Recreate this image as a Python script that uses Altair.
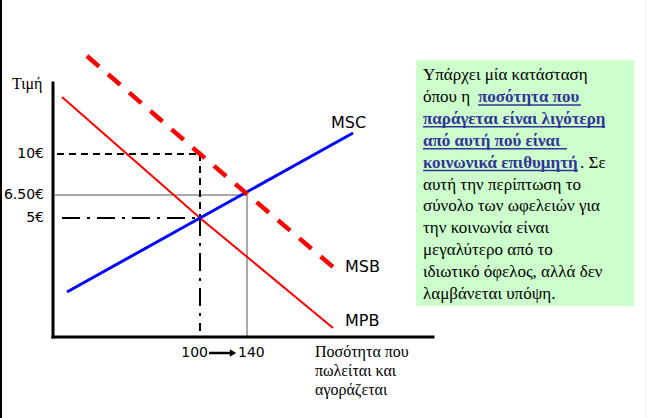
import altair as alt
import pandas as pd

# ---- schematic axes: piecewise quantity / price scales -------------------
q_breaks = [0, 100, 140, 300]
q_pixels = [53, 200, 247, 433]
p_breaks = [0, 5, 6.5, 10, 20]
p_pixels = [337, 218, 195, 154, 26]

xs = alt.Scale(domain=q_breaks, range=q_pixels, nice=False, zero=False)
ys = alt.Scale(domain=p_breaks, range=p_pixels, nice=False, zero=False)

# ---- curves -------------------------------------------------------------
msc_q = [9.5, 100, 231.2]
msc_p = [1.89, 5, 11.64]
mpb_q = [6.1, 100, 214.0]
mpb_p = [14.45, 5, 0.38]
msb_q = [23.1, 100, 214.0]
msb_p = [17.66, 10, 2.94]

# ---- ticks --------------------------------------------------------------
price_ticks = [10, 6.5, 5]
price_labels = ["10€", "6.50€", "5€"]
qty_ticks = [100, 140]
qty_labels = ["100", "140"]

# ---- guide segments (q0, p0, q1, p1) -------------------------------------
dashed_guides = [(2.7, 10, 100, 10), (100, 10, 100, 5)]
dashdot_guides = [(6.1, 5, 100, 5), (100, 5, 100, 0.25)]
thin_guides = [(1.4, 6.5, 140, 6.5), (140, 6.5, 140, 0)]
axis_lines = [(0, 0, 0, 15.55), (0, 0, 300, 0)]

# ---- text ---------------------------------------------------------------
y_title = "Τιμή"
x_title = ["Ποσότητα που", "πωλείται και", "αγοράζεται"]
box_lines = [
    [("Υπάρχει μία κατάσταση", False)],
    [("όπου η", False), ("ποσότητα που", True)],
    [("παράγεται είναι λιγότερη", True)],
    [("από αυτή πού είναι", True)],
    [("κοινωνικά επιθυμητή", True), (". Σε", False)],
    [("αυτή την περίπτωση το", False)],
    [("σύνολο των ωφελειών για", False)],
    [("την κοινωνία είναι", False)],
    [("μεγαλύτερο από το", False)],
    [("ιδιωτικό όφελος, αλλά δεν", False)],
    [("λαμβάνεται υπόψη.", False)],
]

SANS = "DejaVu Sans"
SERIF = "Liberation Serif"
LINK = "#333399"


def curve_df(q, p):
    return pd.DataFrame({"q": q, "p": p, "i": range(len(q))})


def seg_df(segs):
    return pd.DataFrame(segs, columns=["q0", "p0", "q1", "p1"])


def rules(segs, **mark):
    return alt.Chart(seg_df(segs)).mark_rule(**mark).encode(
        x=alt.X("q0:Q", scale=xs, axis=None),
        x2="q1:Q",
        y=alt.Y("p0:Q", scale=ys, axis=None),
        y2="p1:Q",
    )


def curve(q, p, **mark):
    return alt.Chart(curve_df(q, p)).mark_line(**mark).encode(
        x=alt.X("q:Q", scale=xs, axis=None),
        y=alt.Y("p:Q", scale=ys, axis=None),
        order="i:Q",
    )


def curve_label(q, p, text, dx, dy):
    return alt.Chart(pd.DataFrame({"q": [q[-1]], "p": [p[-1]], "t": [text]})).mark_text(
        align="left", baseline="middle", font=SANS, fontSize=16, color="black", dx=dx, dy=dy
    ).encode(
        x=alt.X("q:Q", scale=xs, axis=None),
        y=alt.Y("p:Q", scale=ys, axis=None),
        text="t:N",
    )


one = pd.DataFrame({"k": [0]})

# page frame lines
frame_left = alt.Chart(one).mark_rule(color="black", strokeWidth=2).encode(
    x=alt.value(1), y=alt.value(0), y2=alt.value(418)
)
frame_right = alt.Chart(one).mark_rule(color="#ececec", strokeWidth=1).encode(
    x=alt.value(646), y=alt.value(0), y2=alt.value(418)
)

# guides
g_thin = rules(thin_guides, color="#555555", strokeWidth=1)
g_dash = rules(dashed_guides, color="black", strokeWidth=2, strokeDash=[7, 5])
g_dashdot = rules(dashdot_guides, color="black", strokeWidth=2, strokeDash=[18, 7, 3, 7])

# curves
c_mpb = curve(mpb_q, mpb_p, color="#ff0000", strokeWidth=2)
c_msc = curve(msc_q, msc_p, color="#0000ff", strokeWidth=3)
c_msb = curve(msb_q, msb_p, color="#ff0000", strokeWidth=4.5, strokeDash=[16, 12], strokeCap="butt")

# axes
axes = rules(axis_lines, color="black", strokeWidth=3, strokeCap="square")

# tick labels
price_text = alt.Chart(pd.DataFrame({"p": price_ticks, "t": price_labels})).mark_text(
    align="right", baseline="middle", font=SANS, fontSize=14, color="black"
).encode(x=alt.value(44), y=alt.Y("p:Q", scale=ys, axis=None), text="t:N")

qty_df = pd.DataFrame({"q": qty_ticks, "t": qty_labels})
q_lo = alt.Chart(qty_df.iloc[[0]]).mark_text(
    align="right", baseline="middle", font=SANS, fontSize=14, color="black", dx=8
).encode(x=alt.X("q:Q", scale=xs, axis=None), y=alt.value(353), text="t:N")
q_hi = alt.Chart(qty_df.iloc[[1]]).mark_text(
    align="left", baseline="middle", font=SANS, fontSize=14, color="black", dx=-9
).encode(x=alt.X("q:Q", scale=xs, axis=None), y=alt.value(353), text="t:N")
arrow_shaft = alt.Chart(one).mark_rule(color="black", strokeWidth=2.5).encode(
    x=alt.value(209), x2=alt.value(231), y=alt.value(353)
)
arrow_head = alt.Chart(one).mark_point(
    shape="triangle-right", filled=True, color="black", size=55, opacity=1
).encode(x=alt.value(233), y=alt.value(353))

# curve labels
l_msc = curve_label(msc_q, msc_p, "MSC", -22, -10)
l_msb = curve_label(msb_q, msb_p, "MSB", 12, 0)
l_mpb = curve_label(mpb_q, mpb_p, "MPB", 12, -7)

# axis titles
t_y = alt.Chart(pd.DataFrame({"t": [y_title]})).mark_text(
    align="left", baseline="middle", font=SERIF, fontSize=16, color="black"
).encode(x=alt.value(12), y=alt.value(84), text="t:N")
t_x = alt.Chart(pd.DataFrame({"t": [x_title]})).mark_text(
    align="left", baseline="middle", font=SERIF, fontSize=16, color="black", lineHeight=19
).encode(x=alt.value(315), y=alt.value(352), text="t:N")

# explanatory box
BOX_LEFT, BOX_TOP, BOX_RIGHT, BOX_BOTTOM = 416, 60, 634, 306
TEXT_X, LINE0, STEP = 423, 75, 21.9
seg_x = {(1, 1): 478, (4, 1): 580}
seg_end = {(1, 1): 581, (2, 0): 605, (3, 0): 567, (4, 0): 578}

rows = []
for li, segs in enumerate(box_lines):
    for si, (txt, link) in enumerate(segs):
        rows.append({
            "t": txt,
            "link": link,
            "px": seg_x.get((li, si), TEXT_X),
            "px2": seg_end.get((li, si), TEXT_X),
            "py": LINE0 + li * STEP,
        })
box_df = pd.DataFrame(rows)

box_bg = alt.Chart(one).mark_rect(color="#ccffcc").encode(
    x=alt.value(BOX_LEFT), x2=alt.value(BOX_RIGHT), y=alt.value(BOX_TOP), y2=alt.value(BOX_BOTTOM)
)
box_plain = alt.Chart(box_df[~box_df.link]).mark_text(
    align="left", baseline="middle", font=SERIF, fontSize=17, color="black"
).encode(x=alt.X("px:Q", scale=None), y=alt.Y("py:Q", scale=None), text="t:N")
box_link = alt.Chart(box_df[box_df.link]).mark_text(
    align="left", baseline="middle", font=SERIF, fontSize=17, fontWeight="bold", color=LINK
).encode(x=alt.X("px:Q", scale=None), y=alt.Y("py:Q", scale=None), text="t:N")
link_df = box_df[box_df.link].assign(uy=lambda d: d.py + 8)
box_under = alt.Chart(link_df).mark_rule(color=LINK, strokeWidth=1.5).encode(
    x=alt.X("px:Q", scale=None), x2="px2:Q", y=alt.Y("uy:Q", scale=None)
)

chart = alt.layer(
    frame_left, frame_right,
    box_bg, box_plain, box_link, box_under,
    g_thin, g_dash, g_dashdot,
    c_mpb, c_msc, c_msb,
    axes,
    price_text, q_lo, q_hi, arrow_shaft, arrow_head,
    l_msc, l_msb, l_mpb,
    t_y, t_x,
).properties(
    width=647, height=418, autosize="none", padding=0, background="white"
).configure_view(stroke=None)

chart.save("out.html", embed_options={"renderer": "svg", "actions": False})
